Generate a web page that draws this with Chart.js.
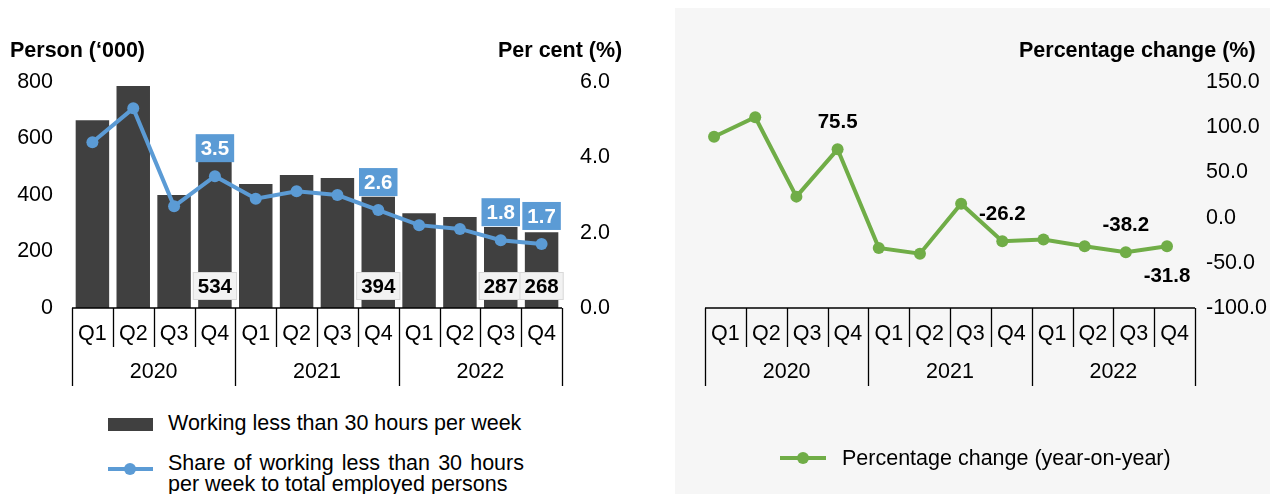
<!DOCTYPE html>
<html>
<head>
<meta charset="utf-8">
<script src="https://cdn.jsdelivr.net/npm/chart.js@4"></script>
<style>
  body { margin: 0; width: 1270px; height: 494px; background: #fff; position: relative; overflow: hidden;
         font-family: 'Liberation Sans', Arial, sans-serif; color: #000; }
  .abs { position: absolute; }
  .title { font-weight: bold; font-size: 21.5px; line-height: 24px; white-space: nowrap; }
  .leg { font-size: 21.5px; white-space: nowrap; }
  #panel { left: 675px; top: 8px; width: 595px; height: 486px; background: #f6f6f6; }
</style>
</head>
<body>
<div id="panel" class="abs"></div>
<canvas id="leftChart" class="abs" style="left:0;top:0" width="640" height="400"></canvas>
<canvas id="rightChart" class="abs" style="left:675px;top:0" width="595" height="494"></canvas>

<div class="abs title" style="left:10px;top:38px">Person (‘000)</div>
<div class="abs title" style="left:498px;top:38px">Per cent (%)</div>
<div class="abs title" style="left:1019px;top:38px">Percentage change (%)</div>

<!-- left legend -->
<div class="abs" style="left:108px;top:418px;width:45px;height:13px;background:#404040"></div>
<div class="abs leg" style="left:168px;top:411px;line-height:24px">Working less than 30 hours per week</div>
<div class="abs" style="left:108px;top:467px;width:45px;height:4px;background:#5b9bd5"></div>
<div class="abs" style="left:124px;top:463px;width:12px;height:12px;border-radius:6px;background:#5b9bd5"></div>
<div class="abs leg" style="left:168px;top:453px;width:356px;line-height:20.5px;white-space:normal;text-align:justify">Share of working less than 30 hours per week to total employed persons</div>

<!-- right legend -->
<div class="abs" style="left:780px;top:456px;width:46px;height:4px;background:#70ad47"></div>
<div class="abs" style="left:797px;top:452px;width:12px;height:12px;border-radius:6px;background:#70ad47"></div>
<div class="abs leg" style="left:842px;top:446px;line-height:24px">Percentage change (year-on-year)</div>

<script>
const quarters = ["Q1","Q2","Q3","Q4","Q1","Q2","Q3","Q4","Q1","Q2","Q3","Q4"];
const years = ["2020","2021","2022"];

// persons working less than 30 hours per week ('000)
const persons = [665, 786, 400, 534, 439, 471, 460, 394, 335, 322, 287, 268];
// share of total employed persons (%)
const share = [4.4, 5.3, 2.7, 3.5, 2.9, 3.1, 3.0, 2.6, 2.2, 2.1, 1.8, 1.7];
// year-on-year percentage change (%)
const yoyChange = [89.4, 111, 23.2, 75.5, -33.5, -39.9, 15.4, -26.2, -24.2, -31.6, -38.2, -31.8];

// which points get a value label
const labelled = [3, 7, 10, 11];

const personTicks = [0, 800, 200];
const shareTicks = [0, 6, 2];
const changeTicks = [-100, 150, 50];

Chart.defaults.font.family = "'Liberation Sans', Arial, sans-serif";
Chart.defaults.font.size = 21.5;
Chart.defaults.color = "#000";

const FONT = "21.5px 'Liberation Sans', Arial, sans-serif";
const BOLD = "bold 20.5px 'Liberation Sans', Arial, sans-serif";

// two-row category axis: quarters then years
const multiLevelAxis = {
  id: "multiLevelAxis",
  afterDraw(chart) {
    const ctx = chart.ctx;
    const { left, right, bottom } = chart.chartArea;
    const n = quarters.length, w = (right - left) / n;
    ctx.save();
    ctx.strokeStyle = "#000";
    ctx.lineWidth = 1.3;
    ctx.beginPath();
    ctx.moveTo(left, bottom);
    ctx.lineTo(right, bottom);
    for (let i = 0; i <= n; i++) {
      const x = Math.round(left + i * w) + 0.5;
      ctx.moveTo(x, bottom);
      ctx.lineTo(x, bottom + (i % 4 === 0 ? 78 : 39));
    }
    ctx.stroke();
    ctx.fillStyle = "#000";
    ctx.font = FONT;
    ctx.textAlign = "center";
    ctx.textBaseline = "middle";
    quarters.forEach((q, i) => ctx.fillText(q, left + (i + 0.5) * w, bottom + 26));
    years.forEach((y, j) => ctx.fillText(y, left + (j * 4 + 2) * w, bottom + 64));
    ctx.restore();
  }
};

function boxLabel(ctx, text, x, y, fill, stroke, color) {
  ctx.font = BOLD;
  const tw = ctx.measureText(text).width + 10, th = 28;
  ctx.fillStyle = fill;
  ctx.fillRect(x - tw / 2, y - th / 2, tw, th);
  if (stroke) {
    ctx.strokeStyle = stroke;
    ctx.lineWidth = 1;
    ctx.strokeRect(x - tw / 2 + 0.5, y - th / 2 + 0.5, tw - 1, th - 1);
  }
  ctx.fillStyle = color;
  ctx.textAlign = "center";
  ctx.textBaseline = "middle";
  ctx.fillText(text, x, y + 1);
}

const leftLabels = {
  id: "leftLabels",
  afterDatasetsDraw(chart) {
    const ctx = chart.ctx;
    const bars = chart.getDatasetMeta(0).data;
    const pts = chart.getDatasetMeta(1).data;
    const y0 = chart.scales.y.getPixelForValue(0);
    ctx.save();
    labelled.forEach(i => {
      boxLabel(ctx, String(persons[i]), bars[i].x, y0 - 22, "#f2f2f2", "#d9d9d9", "#000");
      boxLabel(ctx, share[i].toFixed(1), pts[i].x, pts[i].y - 28, "#5b9bd5", null, "#fff");
    });
    ctx.restore();
  }
};

const rightLabels = {
  id: "rightLabels",
  afterDatasetsDraw(chart) {
    const ctx = chart.ctx;
    const pts = chart.getDatasetMeta(0).data;
    ctx.save();
    ctx.font = BOLD;
    ctx.fillStyle = "#000";
    ctx.textAlign = "center";
    ctx.textBaseline = "middle";
    labelled.forEach((i, k) => {
      const below = k === labelled.length - 1;
      ctx.fillText(yoyChange[i].toFixed(1), pts[i].x, pts[i].y + (below ? 30 : -27));
    });
    ctx.restore();
  }
};

new Chart(document.getElementById("leftChart"), {
  type: "bar",
  data: {
    labels: quarters,
    datasets: [
      {
        type: "bar",
        label: "Working less than 30 hours per week",
        data: persons,
        backgroundColor: "#404040",
        categoryPercentage: 1,
        barPercentage: 0.82,
        yAxisID: "y",
        order: 2
      },
      {
        type: "line",
        label: "Share of working less than 30 hours per week to total employed persons",
        data: share,
        borderColor: "#5b9bd5",
        backgroundColor: "#5b9bd5",
        borderWidth: 4,
        pointRadius: 6,
        pointBorderWidth: 0,
        tension: 0,
        yAxisID: "y1",
        order: 1
      }
    ]
  },
  options: {
    responsive: false,
    animation: false,
    layout: { padding: { left: 0, right: 0, top: 82, bottom: 92 } },
    plugins: { legend: { display: false }, tooltip: { enabled: false } },
    scales: {
      x: { display: false, offset: true },
      y: {
        position: "left",
        min: personTicks[0], max: personTicks[1],
        ticks: { stepSize: personTicks[2], padding: 19, color: "#000" },
        grid: { display: false, drawTicks: false },
        border: { display: false },
        afterFit(s) { s.width = 72; }
      },
      y1: {
        position: "right",
        min: shareTicks[0], max: shareTicks[1],
        ticks: { stepSize: shareTicks[2], padding: 18, color: "#000", callback: v => v.toFixed(1) },
        grid: { display: false, drawTicks: false },
        border: { display: false },
        afterFit(s) { s.width = 78; }
      }
    }
  },
  plugins: [multiLevelAxis, leftLabels]
});

new Chart(document.getElementById("rightChart"), {
  type: "line",
  data: {
    datasets: [{
      label: "Percentage change (year-on-year)",
      data: yoyChange.map((v, i) => ({ x: i, y: v })),
      borderColor: "#70ad47",
      backgroundColor: "#70ad47",
      borderWidth: 4,
      pointRadius: 6,
      pointBorderWidth: 0,
      tension: 0
    }]
  },
  options: {
    responsive: false,
    animation: false,
    layout: { padding: { left: 30, right: 0, top: 82, bottom: 186 } },
    plugins: { legend: { display: false }, tooltip: { enabled: false } },
    scales: {
      x: { type: "linear", display: false, min: -0.22, max: 11.68 },
      y: {
        position: "right",
        min: changeTicks[0], max: changeTicks[1],
        ticks: { stepSize: changeTicks[2], padding: 11, color: "#000", callback: v => v.toFixed(1) },
        grid: { display: false, drawTicks: false },
        border: { display: false },
        afterFit(s) { s.width = 75; }
      }
    }
  },
  plugins: [multiLevelAxis, rightLabels]
});
</script>
</body>
</html>
